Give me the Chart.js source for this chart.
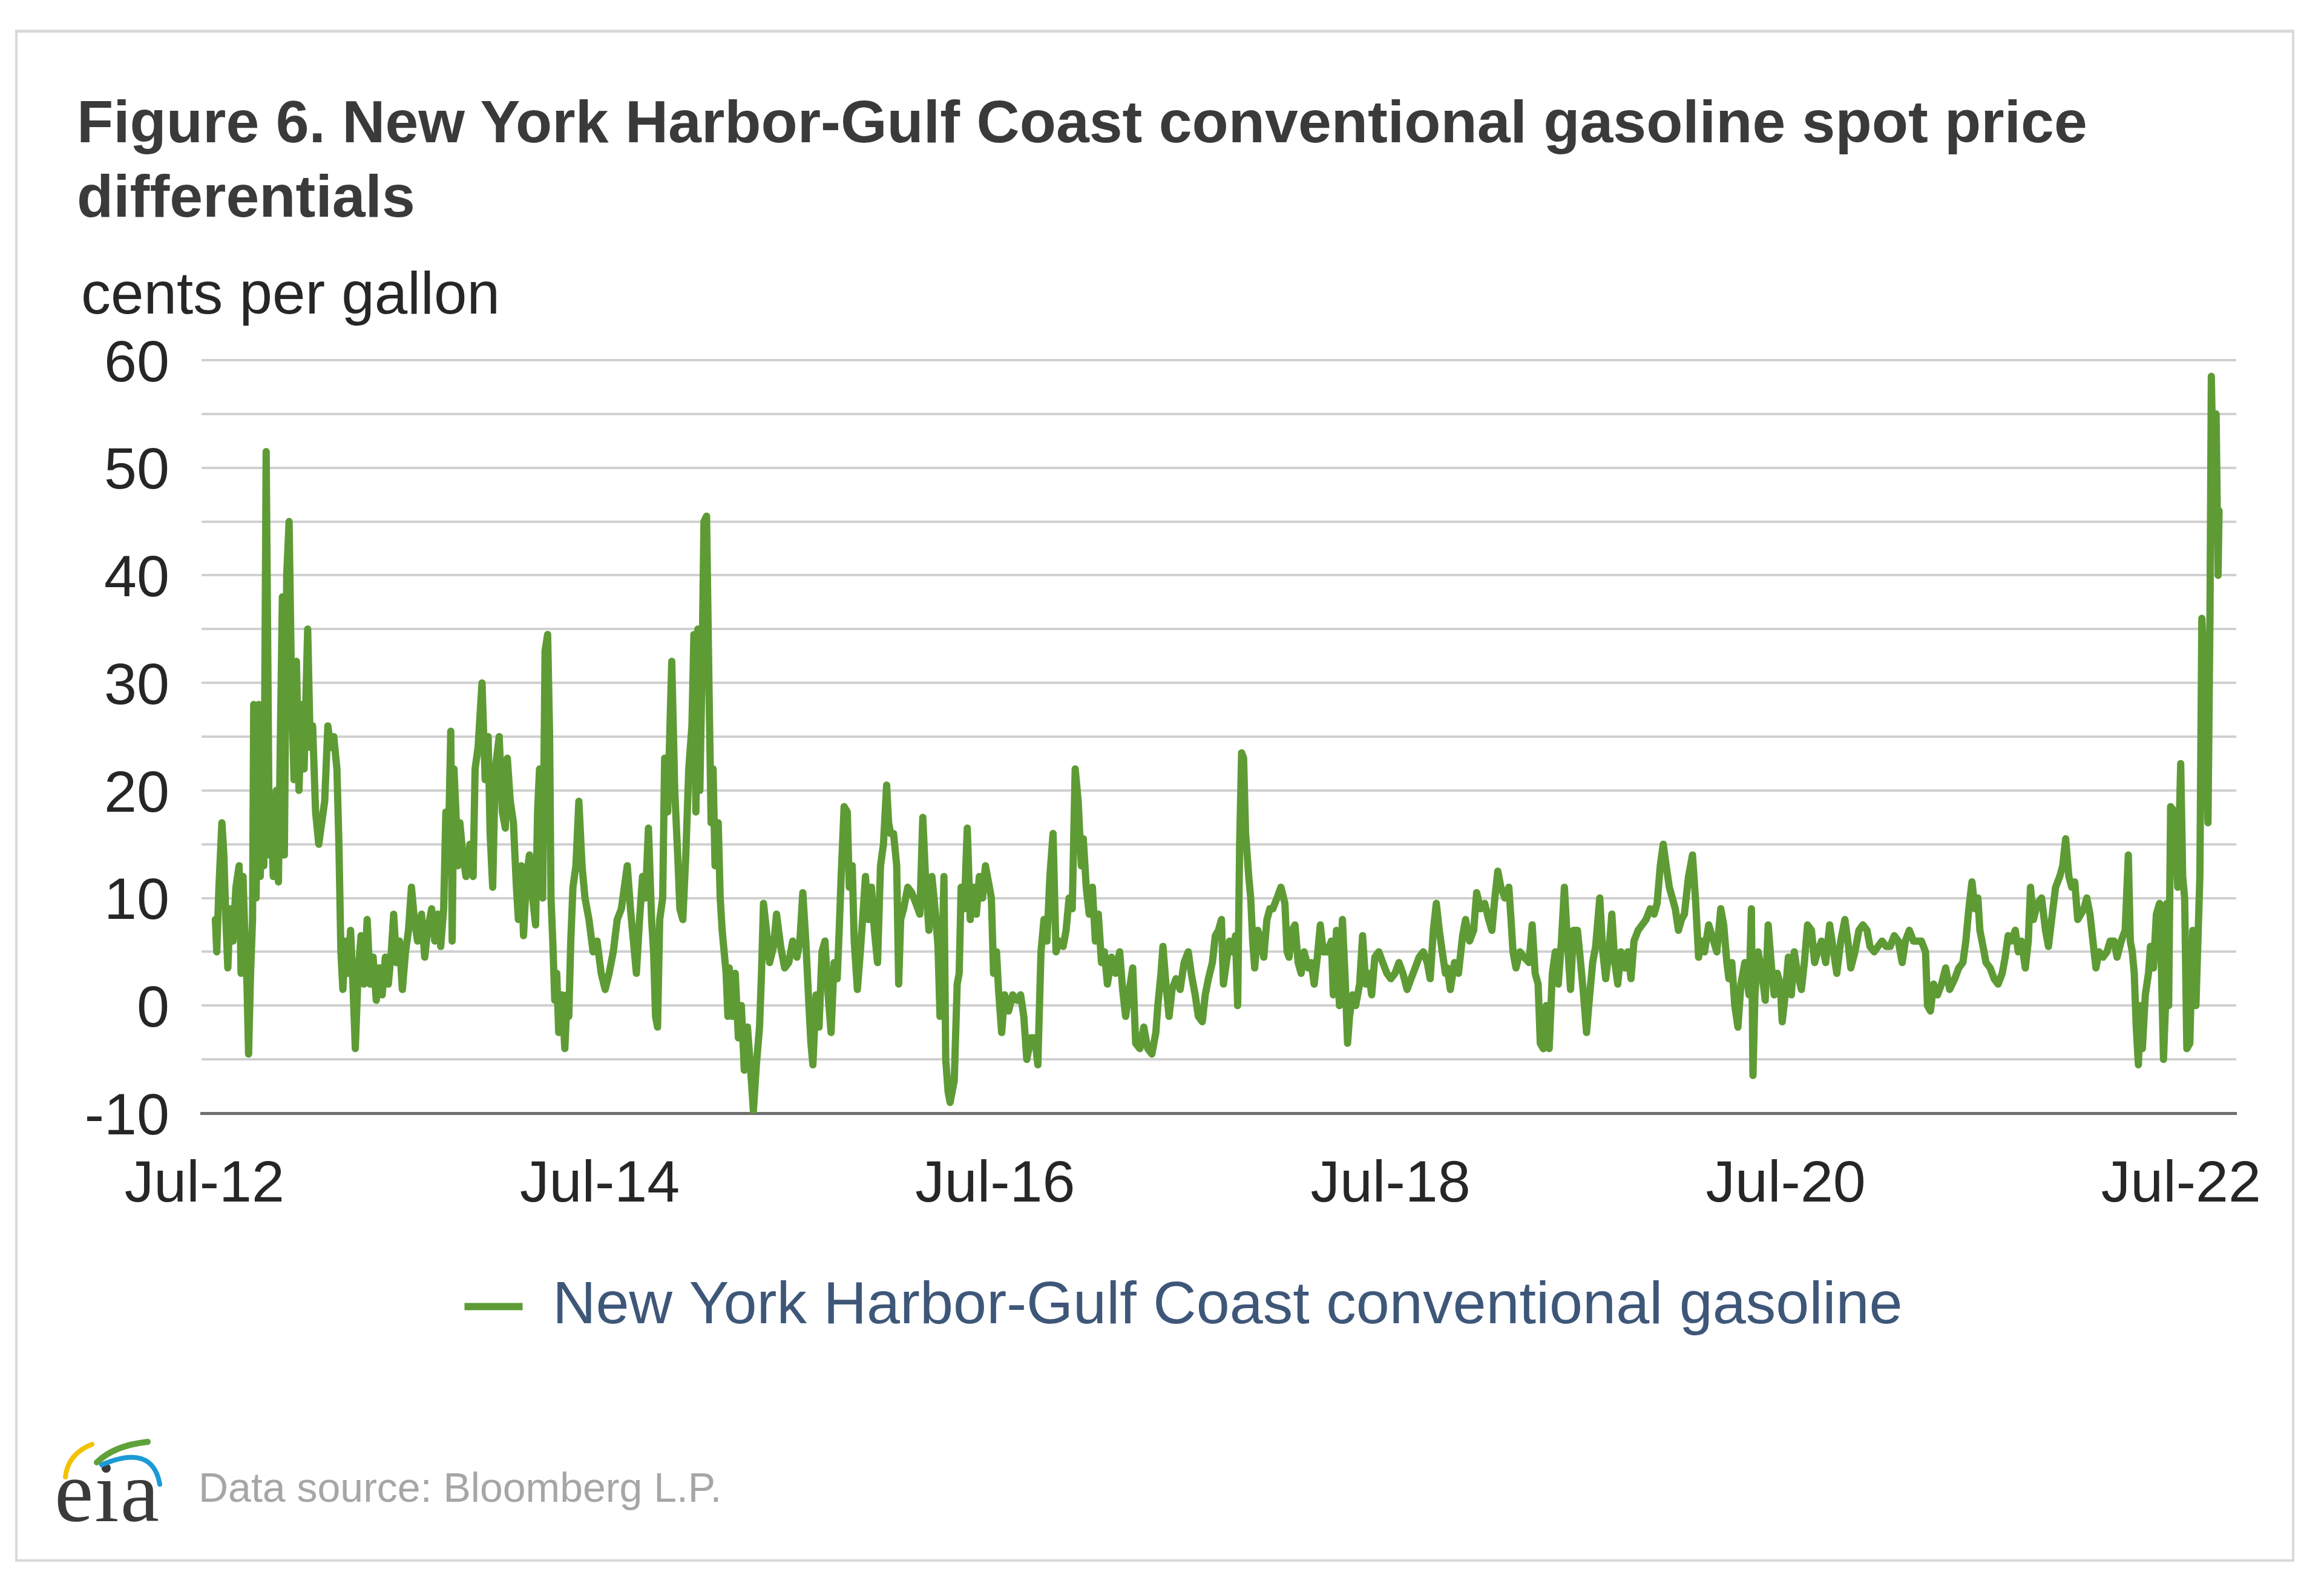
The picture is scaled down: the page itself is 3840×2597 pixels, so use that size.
<!DOCTYPE html>
<html>
<head>
<meta charset="utf-8">
<script src="https://cdn.jsdelivr.net/npm/chart.js@4.4.1/dist/chart.umd.min.js"></script>
<style>
html, body { margin: 0; padding: 0; background: #ffffff; }
body { width: 3840px; height: 2597px; position: relative; overflow: hidden; font-family: 'Liberation Sans', Arial, sans-serif; }
#frame { position: absolute; left: 25px; top: 49px; width: 3766px; height: 2531px; box-sizing: border-box; border: 4px solid #d9d9d9; border-top-width: 5px; }
#title { position: absolute; left: 127px; top: 140px; font-size: 98.6px; line-height: 123px; font-weight: bold; color: #3a3a3a; white-space: nowrap; }
#unit { position: absolute; left: 134px; top: 435px; font-size: 98px; line-height: 98px; color: #262626; white-space: nowrap; }
#wrap { position: absolute; left: 0; top: 520px; width: 3840px; height: 1698px; }
#wrap canvas { display: block; }
#source { position: absolute; left: 328px; top: 2423px; font-size: 68px; line-height: 68px; color: #a6a6a6; white-space: nowrap; }
#logotext { position: absolute; left: 90px; top: 2392px; font-family: 'Liberation Serif', 'DejaVu Serif', serif; font-size: 145px; line-height: 145px; color: #3a3a3a; letter-spacing: 2px; white-space: nowrap; }
#logoarcs { position: absolute; left: 0; top: 2300px; }
</style>
</head>
<body>
<div id="frame"></div>
<div id="title">Figure 6. New York Harbor-Gulf Coast conventional gasoline spot price<br>differentials</div>
<div id="unit">cents per gallon</div>
<div id="wrap"><canvas id="c" width="3840" height="1698"></canvas></div>
<div id="logotext">eia</div>
<svg id="logoarcs" width="400" height="300" viewBox="0 0 400 300">
  <path d="M 108 140 Q 112 102 152 86" fill="none" stroke="#f2c200" stroke-width="8" stroke-linecap="round"/>
  <path d="M 160 116 Q 188 88 244 82" fill="none" stroke="#5fa13a" stroke-width="10" stroke-linecap="round"/>
  <path d="M 168 120 Q 252 84 264 152" fill="none" stroke="#1c9ad6" stroke-width="8" stroke-linecap="round"/>
</svg>
<div id="source">Data source: Bloomberg L.P.</div>

<script>
// ---- Data (decimal years, cents per gallon) ----
const seriesLabel = 'New York Harbor-Gulf Coast conventional gasoline';

const datesA = [2012.555,2012.562,2012.573,2012.588,2012.598,2012.608,2012.618,2012.629,2012.644,2012.659,
2012.675,2012.685,2012.695,2012.705,2012.715,2012.723,2012.733,2012.743,2012.749,2012.761,
2012.774,2012.782,2012.792,2012.800,2012.812,2012.828,2012.838,2012.848,2012.863,2012.874,
2012.884,2012.894,2012.904,2012.916,2012.928,2012.940,2012.953,2012.965,2012.978,2012.991,
2013.004,2013.022,2013.035,2013.047,2013.062,2013.078,2013.093,2013.108,2013.124,2013.139,
2013.154,2013.170,2013.180,2013.190,2013.200,2013.212,2013.226,2013.239,2013.251,2013.263,
2013.277,2013.292,2013.307,2013.323,2013.338,2013.353,2013.369,2013.384,2013.399,2013.415,
2013.430,2013.445,2013.457,2013.471,2013.486,2013.501,2013.517,2013.532,2013.547,2013.562,
2013.578,2013.598,2013.614,2013.629,2013.649,2013.665,2013.680,2013.695,2013.710,2013.721,
2013.733,2013.746];
const valuesA = [8,5,11,17,14,8,3.5,9,6,11,
13,3,12,6,2,-4.5,3,8,28,10,
28,12,20,13,51.5,14,17,12,20,11.5,
25,38,14,40,45,30,21,32,20,28,
22,35,24,26,18,15,17,19,26,24,
25,22,15,5,1.5,6,3,7,2,-4,
3,6.5,2,8,2,4.5,0.5,3.5,1,4.5,
2,5,8.5,4,6,1.5,5,7,11,8,
6,8.5,4.5,7,9,6,8.5,5.5,9,18,
14,25.5];

const datesB = [2013.753,2013.762,2013.772,2013.782,2013.792,2013.807,2013.823,2013.843,2013.859,2013.869,
2013.884,2013.904,2013.920,2013.935,2013.945,2013.958,2013.971,2013.991,2014.007,2014.022,
2014.032,2014.047,2014.063,2014.078,2014.088,2014.103,2014.114,2014.129,2014.144,2014.160,
2014.175,2014.185,2014.195,2014.211,2014.223,2014.236,2014.246,2014.253,2014.262,2014.272,
2014.282,2014.292,2014.308,2014.323,2014.335,2014.343,2014.353,2014.364,2014.379,2014.394,
2014.410,2014.425,2014.445,2014.466,2014.486,2014.507,2014.527,2014.547,2014.568,2014.588,
2014.609,2014.624,2014.639,2014.655,2014.670,2014.685,2014.701,2014.716,2014.731,2014.746,
2014.762,2014.772,2014.782,2014.792,2014.803,2014.818,2014.828,2014.843,2014.864,2014.879,
2014.894,2014.905,2014.920,2014.935,2014.950,2014.966,2014.976,2014.986,2014.996,2015.006,
2015.016,2015.027,2015.040,2015.052,2015.063];
const valuesB = [6,22,18,13,17,14,12,15,12,22,
24,30,21,25,16,11,22,25,18,16.5,
23,19,17,11,8,13,6.5,12,14,10,
7.5,18,22,10,33,34.5,25,10,6,0.5,
3,-2.5,1,-4,1,-1,6,11,13,19,
13,10,8,5,6,3,1.5,3,5,8,
9,11,13,9,6,3,8,12,10,16.5,
8,5,-1,-2,8,10,23,18,32,20,
14,9,8,14,22,26,34.5,18,35,20,
30,45,45.5,30,17];

const datesC = [2015.073,2015.083,2015.099,2015.109,2015.119,2015.129,2015.139,2015.148,2015.155,2015.170,
2015.185,2015.201,2015.216,2015.231,2015.247,2015.267,2015.277,2015.292,2015.308,2015.318,
2015.328,2015.343,2015.359,2015.379,2015.394,2015.415,2015.435,2015.456,2015.476,2015.497,
2015.512,2015.527,2015.542,2015.558,2015.568,2015.578,2015.594,2015.609,2015.624,2015.639,
2015.655,2015.670,2015.685,2015.701,2015.711,2015.721,2015.736,2015.752,2015.762,2015.777,
2015.787,2015.803,2015.818,2015.833,2015.844,2015.859,2015.874,2015.889,2015.905,2015.920,
2015.935,2015.951,2015.961,2015.971,2015.986,2016.002,2016.012,2016.022,2016.037,2016.058,
2016.078,2016.099,2016.119,2016.134,2016.150,2016.165,2016.180,2016.196,2016.211,2016.221,
2016.231,2016.241,2016.250,2016.262,2016.272];
const valuesC = [22,13,17,10,7,5,3,-1,3.5,-1,
3,-3,0,-6,-2,-7,-9.8,-5.5,-2,3,
9.5,7,4,5.5,8.5,5.5,3.5,4,6,4.5,
6,10.5,6,0,-3.5,-5.5,1,-2,5,6,
1,-2.5,4,2.5,7,12,18.5,18,11,13,
6,1.5,5,9,12,8,11,7,4,13,
15,20.5,17,16,16,13,2,8,9,11,
10.5,9.5,8.5,17.5,11,7,12,9,5.5,-1,
4,12,-5,-8,-9];

const datesD = [2016.293,2016.308,2016.318,2016.328,2016.344,2016.359,2016.374,2016.390,2016.405,2016.420,
2016.436,2016.451,2016.466,2016.481,2016.492,2016.507,2016.517,2016.533,2016.548,2016.568,
2016.589,2016.609,2016.629,2016.645,2016.660,2016.681,2016.701,2016.716,2016.732,2016.747,
2016.762,2016.777,2016.793,2016.808,2016.823,2016.844,2016.859,2016.874,2016.890,2016.905,
2016.920,2016.936,2016.946,2016.961,2016.976,2016.992,2017.007,2017.022,2017.038,2017.053,
2017.068,2017.089,2017.109,2017.130,2017.145,2017.160,2017.175,2017.196,2017.211,2017.232,
2017.252,2017.272,2017.293,2017.313,2017.323,2017.339,2017.349,2017.364,2017.380,2017.395,
2017.415,2017.436,2017.456,2017.477,2017.492,2017.512];
const valuesD = [-7,2,3,11,9,16.5,8,11,8.5,12,
10,13,11.5,10,3,5,1.5,-2.5,1,-0.5,
1,0.5,1,-1,-5,-3,-3,-5.5,5,8,
6,12,16,5,6,5.5,7,10,9,22,
19,13,15.5,11,8.5,11,6,8.5,4,5,
2,4.5,3,5,1.5,-1,1,3.5,-3.5,-4,
-2,-4,-4.5,-2.5,0,3,5.5,2,-1,1.5,
2.5,1.5,4,5,3,1];

const datesE = [2017.528,2017.548,2017.563,2017.579,2017.599,2017.614,2017.630,2017.645,2017.655,2017.670,
2017.686,2017.701,2017.716,2017.727,2017.737,2017.747,2017.757,2017.767,2017.783,2017.793,
2017.803,2017.813,2017.829,2017.844,2017.859,2017.875,2017.890,2017.905,2017.926,2017.946,
2017.966,2017.977,2017.987,2018.002,2018.017,2018.033,2018.048,2018.063,2018.084,2018.099,
2018.114,2018.130,2018.145,2018.160,2018.181,2018.201,2018.211,2018.227,2018.242,2018.257,
2018.272,2018.283,2018.293,2018.308,2018.324,2018.344,2018.359,2018.375,2018.390,2018.405,
2018.421,2018.441,2018.461,2018.482,2018.502,2018.523,2018.543,2018.563,2018.584,2018.604,
2018.625,2018.645,2018.666,2018.686,2018.701,2018.717,2018.732,2018.747,2018.762,2018.778];
const valuesE = [-1,-1.5,1,2.5,4,6.5,7,8,2,4,
6,5,6.5,0,15,23.5,23,16,12,10,
6,3.5,7,6,4.5,8,9,9,10,11,
9.5,5,4.5,7,7.5,4,3,5,3.5,4,
2,4.5,7.5,5,5,6,1,7,0,8,
2,-3.5,-1,1,0,2,6.5,2,3,1,
4.5,5,4,3,2.5,3,4,3,1.5,2.5,
3.5,4.5,5,4,2.5,7,9.5,7,5,3];

const datesF = [2018.788,2018.803,2018.824,2018.844,2018.865,2018.880,2018.900,2018.921,2018.936,2018.956,
2018.977,2018.997,2019.013,2019.028,2019.043,2019.059,2019.079,2019.099,2019.110,2019.120,
2019.135,2019.155,2019.176,2019.201,2019.217,2019.232,2019.247,2019.258,2019.273,2019.288,
2019.303,2019.319,2019.334,2019.349,2019.365,2019.380,2019.395,2019.411,2019.426,2019.446,
2019.462,2019.477,2019.492,2019.508,2019.523,2019.538,2019.559,2019.574,2019.589,2019.605,
2019.620,2019.635,2019.650,2019.666,2019.686,2019.701,2019.717,2019.732,2019.753,2019.773,
2019.793,2019.814,2019.834,2019.849,2019.865,2019.880,2019.895,2019.911,2019.926,2019.941,
2019.957,2019.972,2019.987,2020.008];
const valuesF = [3.5,1.5,4,3,6.5,8,6,7,10.5,9,
9.5,8,7,10,12.5,11,10,11,8,5,
3.5,5,4.5,4,7.5,3,2,-3.5,-4,0,
-4,3,5,2,6,11,6,1.5,7,7,
4,1,-2.5,1,4,5.5,10,5,2.5,5,
8.5,4,2,5,3.5,5,2.5,6,7,7.5,
8,9,8.5,9.5,13,15,13,11,10,9,
7,8,8.5,12];

const datesG = [2020.028,2020.043,2020.059,2020.074,2020.089,2020.110,2020.135,2020.151,2020.171,2020.186,
2020.202,2020.212,2020.227,2020.242,2020.258,2020.273,2020.293,2020.314,2020.326,2020.334,
2020.344,2020.360,2020.380,2020.396,2020.411,2020.426,2020.441,2020.457,2020.472,2020.482,
2020.497,2020.513,2020.528,2020.543,2020.559,2020.579,2020.594,2020.610,2020.630,2020.646,
2020.661,2020.681,2020.702,2020.722,2020.742,2020.758,2020.778,2020.799,2020.814,2020.829,
2020.850,2020.870,2020.890,2020.911,2020.926,2020.947,2020.967,2020.987,2021.008,2021.028,
2021.049,2021.069,2021.089,2021.105,2021.125,2021.146,2021.166,2021.186,2021.207,2021.217,
2021.232,2021.248,2021.268,2021.288];
const valuesG = [14,10,4.5,6,5,7.5,6,5,9,7.5,
4,2.5,4,0,-2,2,4,1,9,-6.5,
1,5,3,0.5,7.5,4,1,3,2,-1.5,
1,4.5,1,5,3,1.5,4,7.5,7,4,
5,6,4,7.5,5,3,6,8,6,3.5,
5,7,7.5,7,5.5,5,5.5,6,5.5,5.5,
6.5,6,4,6,7,6,6,6,5,0,
-0.5,2,1,2];

const datesH = [2021.309,2021.329,2021.355,2021.375,2021.396,2021.411,2021.426,2021.442,2021.457,2021.472,
2021.482,2021.498,2021.513,2021.534,2021.554,2021.574,2021.595,2021.610,2021.625,2021.641,
2021.661,2021.676,2021.692,2021.712,2021.727,2021.738,2021.753,2021.773,2021.794,2021.814,
2021.829,2021.845,2021.865,2021.886,2021.901,2021.916,2021.932,2021.947,2021.962,2021.977,
2021.993,2022.008,2022.023,2022.039,2022.054,2022.069,2022.085,2022.105,2022.125,2022.141,
2022.161,2022.176,2022.197,2022.217,2022.233,2022.243,2022.253,2022.263,2022.273,2022.284,
2022.294,2022.304,2022.319,2022.335,2022.345,2022.360,2022.375,2022.391,2022.401,2022.411,
2022.421,2022.427,2022.437,2022.447,2022.467,2022.483,2022.498,2022.508,2022.518,2022.529,
2022.544,2022.559,2022.575,2022.585,2022.595,2022.605,2022.620,2022.636,2022.646,2022.653,
2022.666,2022.677,2022.687,2022.692];
const valuesH = [3.5,1.5,2.5,3.5,4,6,9,11.5,9,10,
7,5.5,4,3.5,2.5,2,3,4.5,6.5,6,
7,5,6,3.5,6,11,8,9.5,10,7,
5.5,8,11,12,13,15.5,12,11,11.5,8,
8.5,9,10,8.5,6,3.5,5,4.5,5,6,
6,4.5,6,7,14,6,5,3,-2,-5.5,
0,-4,1,3,5.5,3.5,8.5,9.5,3,-5,
0,9.5,0,18.5,18,11,22.5,12,10,-4,
-3.5,7,0,6,12,36,30,17,36,58.5,
45,55,40,46];

// Axis ticks
const xTickYears  = [2012.5, 2014.5, 2016.5, 2018.5, 2020.5, 2022.5];
const xTickLabels = ['Jul-12', 'Jul-14', 'Jul-16', 'Jul-18', 'Jul-20', 'Jul-22'];
const yTickValues = [-10, 0, 10, 20, 30, 40, 50, 60];

// ---- Build chart ----
const GREEN = '#5e9b35';
const allDates  = [].concat(datesA, datesB, datesC, datesD, datesE, datesF, datesG, datesH);
const allValues = [].concat(valuesA, valuesB, valuesC, valuesD, valuesE, valuesF, valuesG, valuesH);
const points = allDates.map((d, i) => ({ x: d, y: allValues[i] }));

Chart.defaults.font.family = "'Liberation Sans', Arial, sans-serif";

// Nudge the legend row horizontally to sit where the reference legend sits
const legendShift = {
  id: 'legendShift',
  afterLayout(chart) {
    if (chart.legend) { chart.legend.left += 38; chart.legend.right += 38; }
  }
};

new Chart(document.getElementById('c'), {
  type: 'line',
  plugins: [legendShift],
  data: {
    datasets: [{
      label: seriesLabel,
      data: points,
      borderColor: GREEN,
      backgroundColor: GREEN,
      borderWidth: 12,
      pointRadius: 0,
      tension: 0,
      borderJoinStyle: 'round',
      borderCapStyle: 'round'
    }]
  },
  options: {
    responsive: false,
    animation: false,
    devicePixelRatio: 1,
    layout: { padding: { left: 140, right: 145, top: 75, bottom: 0 } },
    plugins: {
      tooltip: { enabled: false },
      legend: {
        position: 'bottom',
        labels: {
          font: { size: 99 },
          color: '#3e5779',
          boxWidth: 96,
          boxHeight: 12,
          padding: 92,
          generateLabels: (chart) =>
            Chart.defaults.plugins.legend.labels.generateLabels(chart).map(l =>
              Object.assign(l, { lineWidth: 0, fillStyle: GREEN, strokeStyle: GREEN }))
        }
      }
    },
    scales: {
      x: {
        type: 'linear',
        min: 2012.485,
        max: 2022.779,
        grid: { display: false, drawTicks: false },
        border: { display: true, color: '#6f6f6f', width: 5 },
        afterBuildTicks: (axis) => { axis.ticks = xTickYears.map(v => ({ value: v })); },
        afterFit: (s) => { s.height = 178; s.paddingLeft = 0; s.paddingRight = 0; s.paddingTop = 0; s.paddingBottom = 0; },
        ticks: {
          autoSkip: false,
          maxRotation: 0,
          padding: 61,
          font: { size: 97 },
          color: '#262626',
          callback: (v) => { const i = xTickYears.indexOf(v); return i >= 0 ? xTickLabels[i] : ''; }
        }
      },
      y: {
        min: -10,
        max: 60,
        grid: { color: '#d0d0d0', lineWidth: 4, drawTicks: false },
        border: { display: false },
        afterFit: (s) => { s.width = 193; s.paddingLeft = 0; s.paddingRight = 0; s.paddingTop = 0; s.paddingBottom = 0; },
        ticks: {
          stepSize: 5,
          autoSkip: false,
          padding: 53,
          labelOffset: 8,
          font: { size: 97 },
          color: '#262626',
          callback: (v) => yTickValues.includes(v) ? String(v) : ''
        }
      }
    }
  }
});
</script>
</body>
</html>
